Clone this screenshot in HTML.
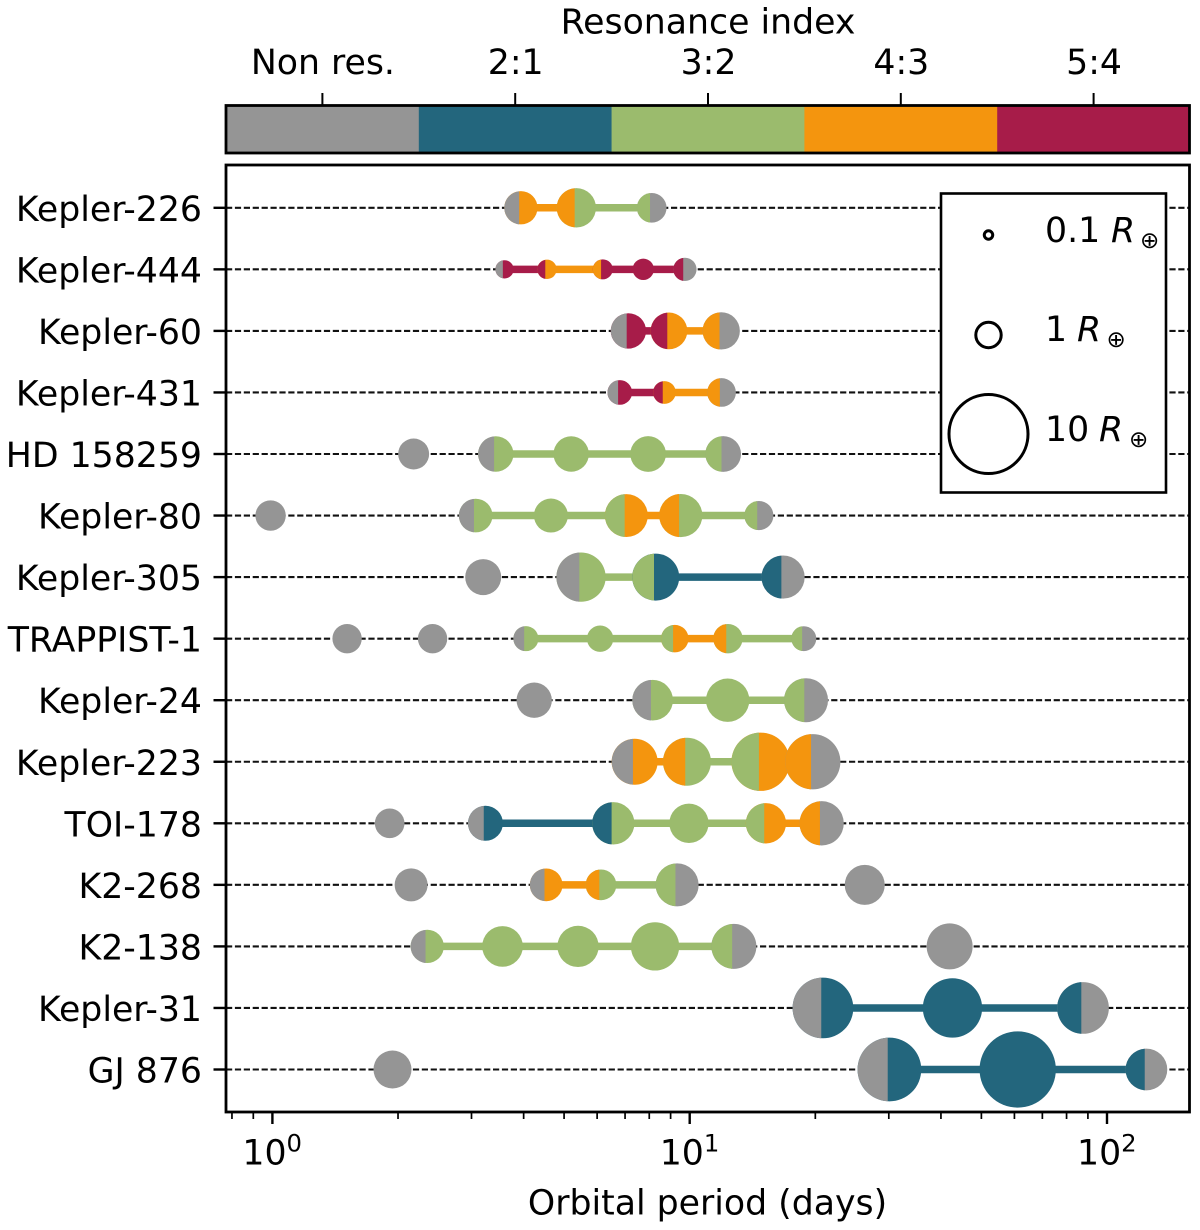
<!DOCTYPE html>
<html lang="en">
<head>
<meta charset="utf-8">
<title>Resonant exoplanet systems by orbital period</title>
<style>
  html, body { margin: 0; padding: 0; background: #fff; }
  body { width: 1200px; height: 1230px; overflow: hidden; }
  svg { display: block; filter: blur(0.35px); }
  text { font-family: "DejaVu Sans", "Liberation Sans", sans-serif; fill: #000; }
</style>
</head>
<body>
<svg id="chart" xmlns="http://www.w3.org/2000/svg" width="1200" height="1230" viewBox="0 0 1200 1230">
  <rect x="0" y="0" width="1200" height="1230" fill="#fff"/>
  <text x="708" y="33.5" font-size="34.7" text-anchor="middle">Resonance index</text>
  <g id="colorbar"></g>
  <g id="rows"></g>
  <rect x="226" y="165" width="963.5" height="947" fill="none" stroke="#000" stroke-width="2.8"/>
  <g id="xaxis"></g>
  <text x="707.5" y="1214.5" font-size="34.7" text-anchor="middle">Orbital period (days)</text>
  <g>
    <rect x="941" y="193.5" width="225" height="299" fill="#fff" stroke="#000" stroke-width="2.6"/>
    <g id="legend-marks"></g>
    <text y="242" font-size="34.7"><tspan x="1045">0.1</tspan><tspan x="1111" font-style="italic">R</tspan><tspan x="1140" y="248" font-size="23">⊕</tspan></text>
    <text y="341" font-size="34.7"><tspan x="1045">1</tspan><tspan x="1077" font-style="italic">R</tspan><tspan x="1106.5" y="347" font-size="23">⊕</tspan></text>
    <text y="441" font-size="34.7"><tspan x="1045">10</tspan><tspan x="1099" font-style="italic">R</tspan><tspan x="1129" y="447" font-size="23">⊕</tspan></text>
  </g>
</svg>
<script>
// ---- chart data ----
const systemNames = ["Kepler-226","Kepler-444","Kepler-60","Kepler-431","HD 158259","Kepler-80","Kepler-305","TRAPPIST-1","Kepler-24","Kepler-223","TOI-178","K2-268","K2-138","Kepler-31","GJ 876"];
// orbital periods in days
const periods = [
  [3.94,5.35,8.11],
  [3.60,4.55,6.19,7.74,9.74],
  [7.13,8.92,11.9],
  [6.80,8.70,11.92],
  [2.18,3.43,5.20,7.95,12.03],
  [0.99,3.07,4.65,7.05,9.52,14.65],
  [3.20,5.49,8.29,16.74],
  [1.51,2.42,4.05,6.10,9.21,12.35,18.77],
  [4.24,8.15,12.33,19.0],
  [7.38,9.85,14.79,19.72],
  [1.91,3.24,6.56,9.96,15.23,20.71],
  [2.15,4.53,6.13,9.33,26.27],
  [2.35,3.56,5.40,8.26,12.76,41.97],
  [20.86,42.63,87.6],
  [1.94,30.1,61.1,124.3]
];
// planet radii in Earth radii
const radii = [
  [1.80,2.51,1.43],
  [0.54,0.61,0.65,0.74,0.88],
  [2.03,2.19,2.26],
  [0.99,0.84,1.34],
  [1.56,2.04,2.04,2.07,2.07],
  [1.50,1.84,1.88,3.00,3.03,1.37],
  [2.11,3.95,3.59,3.03],
  [1.40,1.40,1.02,1.13,1.23,1.40,1.01],
  [2.03,2.69,3.05,3.15],
  [3.44,3.75,5.53,4.97],
  [1.43,1.99,2.91,2.51,2.64,3.19],
  [1.77,1.74,1.53,3.00,2.60],
  [1.80,2.69,2.77,3.79,3.29,3.44],
  [5.99,5.72,4.35],
  [2.35,6.60,9.47,2.83]
];
// resonance index of each consecutive planet pair (0 = non resonant)
const resonances = [
  [3,2],
  [4,3,4,4],
  [4,3],
  [4,3],
  [0,2,2,2],
  [0,2,2,3,2],
  [0,2,1],
  [0,0,2,2,3,2],
  [0,2,2],
  [3,2,3],
  [0,1,2,2,3],
  [0,3,2,0],
  [2,2,2,2,0],
  [1,1],
  [0,1,1]
];
const resonanceLabels = ["Non res.","2:1","3:2","4:3","5:4"];
const resonanceColors = ["#959595","#23667d","#9bbb6d","#f4950e","#a71c49"];
const legendRadii = [0.1,1,10];
const majorTicks = [1,10,100];
const minorTicks = [0.8,0.9,2,3,4,5,6,7,8,9,20,30,40,50,60,70,80,90];

// ---- axis functions ----
const SVGNS = "http://www.w3.org/2000/svg";
const xScale = p => 272.4 + 417.3 * Math.log10(p);
const yScale = i => 207.8 + 61.55 * i;
const sizeScale = r => 24.8 * Math.sqrt(r) / 2;
const cbScale = v => 226 + 192.8 * (v + 0.5);

function mk(tag, attrs, parent) {
  const el = document.createElementNS(SVGNS, tag);
  for (const k in attrs) el.setAttribute(k, attrs[k]);
  parent.appendChild(el);
  return el;
}

// ---- colorbar ----
const cb = document.getElementById("colorbar");
resonanceLabels.forEach((label, i) => {
  const seg = mk("rect", {x: cbScale(i - 0.5), y: 106, width: cbScale(i + 0.5) - cbScale(i - 0.5) + 0.3, height: 47.5, fill: resonanceColors[i]}, cb);
  
  
  const tick = mk("line", {x1: cbScale(i), x2: cbScale(i), y1: 93, y2: 106, stroke: "#000", "stroke-width": 2}, cb);
  
  
  const txt = mk("text", {x: cbScale(i) + 0.5, y: 74, "font-size": 34.7, "text-anchor": "middle"}, cb);
  txt.textContent = label;
  
  
});
const cbFrame = mk("rect", {x: 226, y: 105.5, width: 963.5, height: 47.5, fill: "none", stroke: "#000", "stroke-width": 2.8}, cb);



// ---- planet marker: two-colour disc, split just left of centre ----
function leftSegment(cx, cy, r) {
  const s = Math.min(1.7, r * 0.3);
  const sx = cx - s;
  const h = Math.sqrt(r * r - s * s);
  return `M${sx} ${cy - h}A${r} ${r} 0 0 0 ${sx} ${cy + h}Z`;
}

// ---- rows ----
const rowsG = document.getElementById("rows");
systemNames.forEach((name, i) => {
  const y = yScale(i);
  const row = mk("g", {}, rowsG);
  
  

  const guide = mk("line", {x1: 226, x2: 1189.5, y1: y, y2: y, stroke: "#111", "stroke-width": 2.1, "stroke-dasharray": "6.2 2.7"}, row);
  
  

  const tick = mk("line", {x1: 213.5, x2: 226, y1: y, y2: y, stroke: "#000", "stroke-width": 2.4}, row);
  
  

  const label = mk("text", {x: 202, y: y + 13, "font-size": 34.7, "text-anchor": "end"}, row);
  label.textContent = name;
  
  

  const ps = periods[i], rs = radii[i], res = resonances[i];

  res.forEach((k, j) => {
    if (k === 0) return;
    const link = mk("line", {x1: xScale(ps[j]), x2: xScale(ps[j + 1]), y1: y, y2: y, stroke: resonanceColors[k], "stroke-width": 7.5}, row);
    
    
  });

  ps.forEach((p, j) => {
    const leftRes = j > 0 ? res[j - 1] : 0;
    const rightRes = j < res.length ? res[j] : 0;
    const cx = xScale(p), r = sizeScale(rs[j]);
    const planet = mk("g", {}, row);
    
    
    const disc = mk("circle", {cx: cx, cy: y, r: r, fill: resonanceColors[rightRes]}, planet);
    
    
    if (leftRes !== rightRes) {
      const lp = mk("path", {d: leftSegment(cx, y, r), fill: resonanceColors[leftRes]}, planet);
      
      
    }
  });
});

// ---- x axis ----
const xa = document.getElementById("xaxis");
majorTicks.forEach(v => {
  const x = xScale(v);
  const t = mk("line", {x1: x, x2: x, y1: 1112, y2: 1124, stroke: "#000", "stroke-width": 2.4}, xa);
  
  
  const lab = mk("text", {x: x - 30, y: 1164.5, "font-size": 34.7}, xa);
  
  
  const base = mk("tspan", {}, lab);
  base.textContent = "10";
  const sup = mk("tspan", {dy: -13, "font-size": 24.3}, lab);
  sup.textContent = String(Math.round(Math.log10(v)));
});
minorTicks.forEach(v => {
  const x = xScale(v);
  const t = mk("line", {x1: x, x2: x, y1: 1112, y2: 1119, stroke: "#000", "stroke-width": 1.7}, xa);
  
  
});

// ---- legend markers ----
const lg = document.getElementById("legend-marks");
const legendRows = [235, 335, 434];
legendRadii.forEach((r, i) => {
  const c = mk("circle", {cx: 988.5, cy: legendRows[i], r: sizeScale(r) + 0.3, fill: "none", stroke: "#000", "stroke-width": 3}, lg);
  
  
});
</script>
</body>
</html>
